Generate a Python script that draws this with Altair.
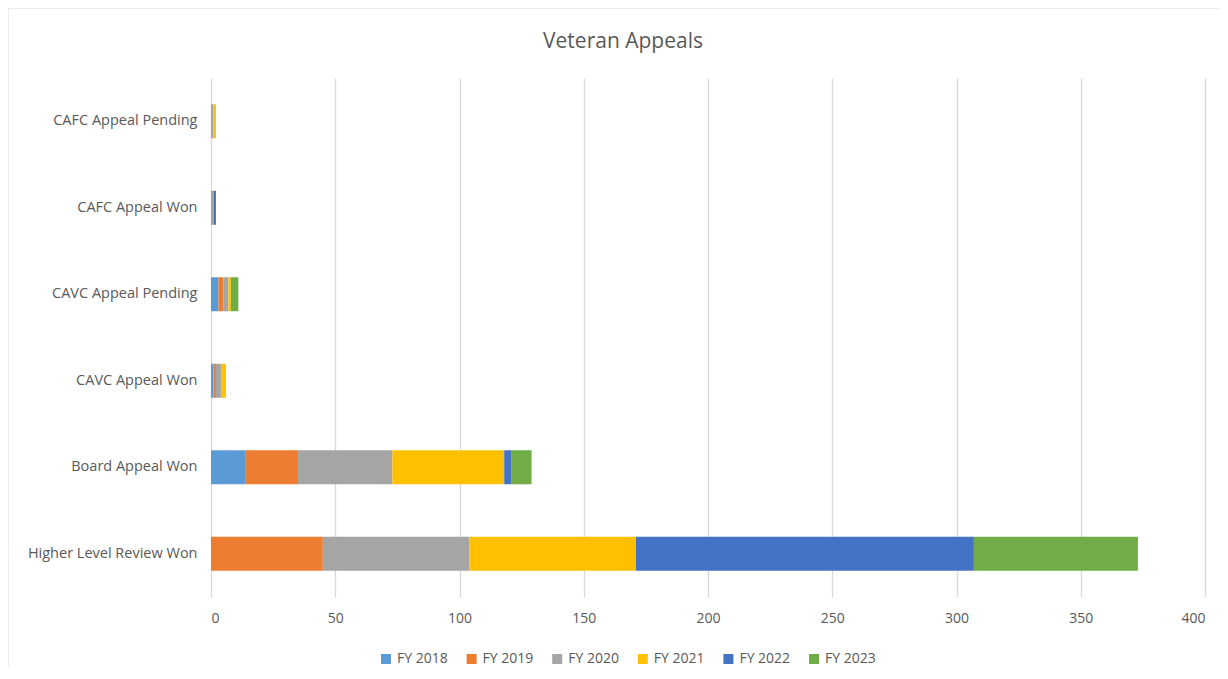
import altair as alt
import pandas as pd

categories = ["CAFC Appeal Pending", "CAFC Appeal Won", "CAVC Appeal Pending",
              "CAVC Appeal Won", "Board Appeal Won", "Higher Level Review Won"]
years = ["FY 2018", "FY 2019", "FY 2020", "FY 2021", "FY 2022", "FY 2023"]
colors = ["#5B9BD5", "#ED7D31", "#A5A5A5", "#FFC000", "#4472C4", "#70AD47"]

fy2018 = [0, 0, 3, 1, 14, 0]
fy2019 = [0, 0, 2, 1, 21, 45]
fy2020 = [1, 1, 2, 2, 38, 59]
fy2021 = [1, 0, 1, 2, 45, 67]
fy2022 = [0, 1, 0, 0, 3, 136]
fy2023 = [0, 0, 3, 0, 8, 66]

title_text = ["Veteran Appeals"]

series = [fy2018, fy2019, fy2020, fy2021, fy2022, fy2023]
rows = []
for yi, (yr, vals) in enumerate(zip(years, series)):
    for c, v in zip(categories, vals):
        rows.append({"category": c, "year": yr, "order": yi, "value": v})
df = pd.DataFrame(rows)

FONT = "Open Sans"

bars = alt.Chart(df).mark_bar(size=34).encode(
    y=alt.Y("category:N", sort=categories, title=None,
            axis=alt.Axis(labelFontSize=14.5, labelColor="#595959", labelFont=FONT,
                          ticks=False, domain=False, labelPadding=14)),
    x=alt.X("value:Q", title=None, stack="zero",
            scale=alt.Scale(domain=[0, 400], nice=False),
            axis=alt.Axis(values=[0, 50, 100, 150, 200, 250, 300, 350, 400],
                          labelFontSize=14, labelColor="#595959", labelFont=FONT,
                          ticks=False, domain=False, labelPadding=14,
                          grid=True, gridColor="#D9D9D9", gridWidth=1.3)),
    color=alt.Color("year:N", sort=years,
                    scale=alt.Scale(domain=years, range=colors),
                    legend=alt.Legend(title=None, orient="none", direction="horizontal",
                                      legendX=168, legendY=574,
                                      symbolType="square", symbolSize=100,
                                      labelFontSize=14, labelColor="#595959",
                                      labelFont=FONT, columnPadding=16.6,
                                      symbolStrokeWidth=0)),
    order=alt.Order("order:Q", sort="ascending"),
)

title = alt.Chart(pd.DataFrame({"t": title_text})).mark_text(
    font=FONT, fontSize=21, color="#595959", align="center", baseline="middle"
).encode(text="t:N", x=alt.value(412), y=alt.value(-36))

border = alt.Chart(pd.DataFrame({"k": [0]})).mark_rect(
    fill=None, stroke="#D9D9D9", strokeWidth=1, clip=False
).encode(x=alt.value(-203), x2=alt.value(1014), y=alt.value(-70), y2=alt.value(593))

chart = alt.layer(border, bars, title).properties(
    width=994, height=519,
    autosize=alt.AutoSizeParams(type="none"),
    padding={"left": 203, "top": 70, "right": 15, "bottom": 70},
).configure(background="white").configure_view(stroke=None)

chart.save("out.html", embed_options={"renderer": "svg", "actions": False})
